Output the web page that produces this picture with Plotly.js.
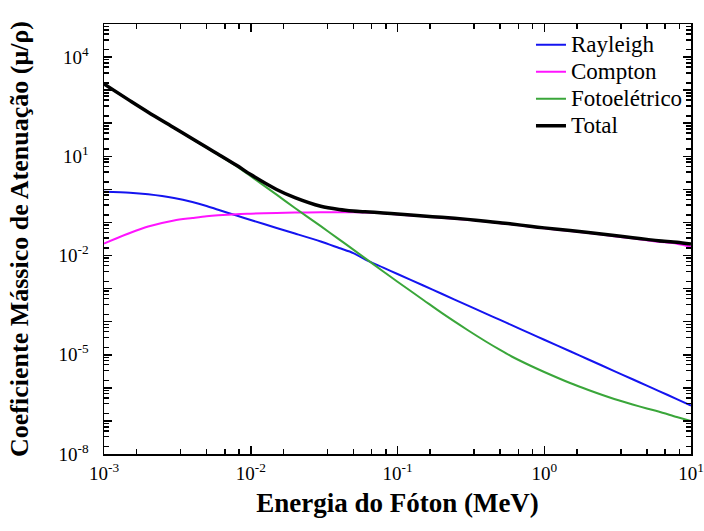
<!DOCTYPE html>
<html>
<head>
<meta charset="utf-8">
<script src="https://cdn.plot.ly/plotly-3.0.1.min.js"></script>
<style>
  html, body { margin: 0; padding: 0; background: #fff; }
  #chart { width: 704px; height: 531px; }
</style>
</head>
<body>
<div id="chart"></div>
<script>
// Photon energy (MeV)
const energy = [0.001, 0.0015, 0.002, 0.003, 0.004, 0.005, 0.006, 0.008,
  0.01, 0.015, 0.02, 0.03, 0.04, 0.05, 0.06, 0.08,
  0.1, 0.15, 0.2, 0.3, 0.4, 0.5, 0.6, 0.8,
  1, 1.5, 2, 3, 4, 5, 6, 8, 10];

// Mass attenuation coefficients (cm²/g) by interaction
const rayleigh = [0.851, 0.794, 0.710, 0.549, 0.416, 0.315, 0.242, 0.162,
  0.119, 0.0681, 0.0464, 0.0266, 0.0169, 0.0119, 0.0076, 0.0043,
  0.00277, 0.00124, 6.98e-4, 3.11e-4, 1.76e-4, 1.13e-4, 7.85e-5, 4.44e-5,
  2.84e-5, 1.28e-5, 7.21e-6, 3.21e-6, 1.82e-6, 1.16e-6, 8.11e-7, 4.58e-7, 2.93e-7];

const compton = [0.0231, 0.0481, 0.0755, 0.115, 0.136, 0.154, 0.165, 0.178,
  0.184, 0.194, 0.199, 0.203, 0.205, 0.203, 0.200, 0.190,
  0.174, 0.153, 0.139, 0.121, 0.106, 0.0951, 0.0876, 0.0746,
  0.0667, 0.0552, 0.0478, 0.0385, 0.0331, 0.0291, 0.0262, 0.0228, 0.0185];

const fotoeletrico = [1530, 482, 215, 72.6, 33.3, 18.3, 11.2, 5.05,
  2.50, 0.692, 0.274, 0.0772, 0.0308, 0.0151, 0.00838, 0.0033,
  0.00162, 4.54e-4, 1.84e-4, 5.62e-5, 2.52e-5, 1.40e-5, 8.87e-6, 4.74e-6,
  3.02e-6, 1.40e-6, 8.62e-7, 4.61e-7, 3.14e-7, 2.38e-7, 1.93e-7, 1.32e-7, 9.97e-8];

const total = [1535, 483, 216, 73.3, 33.9, 18.8, 11.6, 5.35,
  2.80, 0.993, 0.561, 0.308, 0.247, 0.222, 0.210, 0.194,
  0.179, 0.157, 0.143, 0.124, 0.109, 0.0977, 0.0900, 0.0767,
  0.0686, 0.0569, 0.0494, 0.0401, 0.0347, 0.0308, 0.0279, 0.0252, 0.0223];

const seriesNames = ['Rayleigh', 'Compton', 'Fotoelétrico', 'Total'];

// Axis tick labels
const xTickVals = [1e-3, 1e-2, 1e-1, 1e0, 1e1];
const xTickText = ['10<sup>-3</sup>', '10<sup>-2</sup>', '10<sup>-1</sup>', '10<sup>0</sup>', '10<sup>1</sup>'];
const yDecades = [-8, -7, -6, -5, -4, -3, -2, -1, 0, 1, 2, 3, 4, 5];
const yLabelled = [-8, -5, -2, 1, 4];

const yTickVals = yDecades.map(e => Math.pow(10, e));
const yTickText = yDecades.map(e => yLabelled.includes(e) ? '10<sup>' + e + '</sup>' : '');

// minor ticks: five even steps of 10/6 inside each decade
function decadeMinor(lo, hi) {
  const out = [];
  for (let e = lo; e < hi; e++) {
    for (let k = 1; k <= 5; k++) out.push(Math.pow(10, e) * (k * 10 / 6));
  }
  return out;
}

const font = 'Liberation Serif';

const styles = [
  { color: '#1414f0', width: 2 },
  { color: '#ff14ff', width: 2 },
  { color: '#3aa63a', width: 2 },
  { color: '#000000', width: 3.5 }
];
const series = [rayleigh, compton, fotoeletrico, total];

const traces = series.map((y, i) => ({
  type: 'scatter',
  mode: 'lines',
  // larger glyphs than the row pitch of the legend
  name: '<span style="font-size:23px">' + seriesNames[i] + '</span>',
  x: energy,
  y: y,
  line: { color: styles[i].color, width: styles[i].width, shape: 'spline', smoothing: 0.8 }
}));

const axisCommon = {
  type: 'log',
  showline: true,
  linecolor: '#000',
  linewidth: 1.5,
  mirror: 'ticks',
  ticks: 'inside',
  ticklen: 8,
  tickwidth: 1.5,
  tickcolor: '#000',
  showgrid: false,
  zeroline: false,
  tickmode: 'array',
  tickfont: { family: font, size: 19, color: '#000' }
};

const layout = {
  width: 704,
  height: 531,
  margin: { l: 104, r: 13, t: 24, b: 77 },
  paper_bgcolor: '#fff',
  plot_bgcolor: '#fff',
  font: { family: font, color: '#000' },
  showlegend: true,
  legend: {
    x: 0.7274, y: 0.995, xanchor: 'left', yanchor: 'top',
    bgcolor: 'rgba(0,0,0,0)',
    font: { family: font, size: 18.5, color: '#000' },
    tracegroupgap: 0
  },
  xaxis: Object.assign({}, axisCommon, {
    range: [-3, 1],
    tickvals: xTickVals,
    ticktext: xTickText,
    ticklabelstandoff: 2,
    minor: { tickmode: 'array', tickvals: decadeMinor(-3, 1), ticks: 'inside', ticklen: 5, tickwidth: 1.5, tickcolor: '#000' },
    title: { text: '<b>Energia do Fóton (MeV)</b>', font: { family: font, size: 27, color: '#000' }, standoff: 10 }
  }),
  yaxis: Object.assign({}, axisCommon, {
    range: [-8, 5],
    tickvals: yTickVals,
    ticktext: yTickText,
    ticklabelstandoff: 10,
    minor: { tickmode: 'array', tickvals: decadeMinor(-8, 5), ticks: 'inside', ticklen: 5, tickwidth: 1.5, tickcolor: '#000' },
    title: { text: '<b>Coeficiente Mássico de Atenuação (μ/ρ)</b>', font: { family: font, size: 26, color: '#000' }, standoff: 22 }
  })
};

Plotly.newPlot('chart', traces, layout, { displayModeBar: false, staticPlot: true });
</script>
</body>
</html>
